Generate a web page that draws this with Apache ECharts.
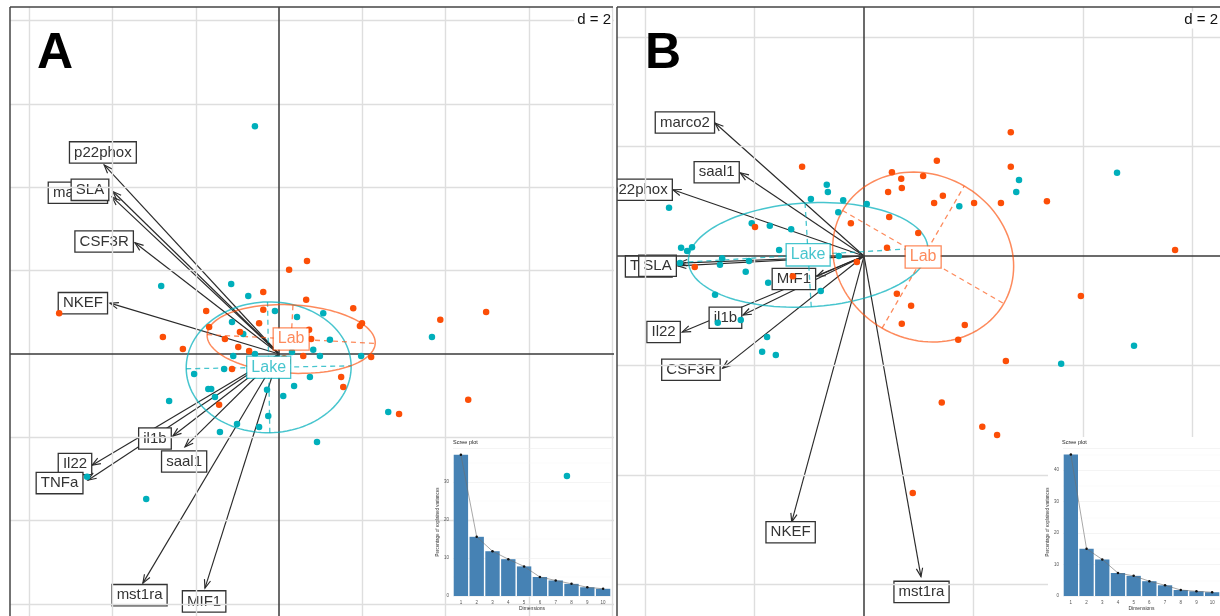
<!DOCTYPE html>
<html>
<head>
<meta charset="utf-8">
<script src="https://cdn.jsdelivr.net/npm/echarts@6/dist/echarts.min.js"></script>
<style>
  html, body { margin: 0; padding: 0; background: #fff; }
  #chart { width: 1220px; height: 616px; }
</style>
</head>
<body>
<div id="chart"></div>
<script>
// ---- panel A : variables (arrows) ----
const varsA = ['p22phox', 'marco2', 'SLA', 'CSF3R', 'NKEF', 'il1b', 'Il22', 'TNFa', 'saal1', 'mst1ra', 'MIF1'];
const tipsA = [[-4.20, 4.54], [-4.01, 3.77], [-3.99, 3.90], [-3.46, 2.67], [-4.06, 1.22], [-2.55, -1.97],
  [-4.49, -2.67], [-4.59, -3.03], [-2.26, -2.23], [-3.27, -5.50], [-1.78, -5.62]];
const labelPosA = [[-4.23, 4.84], [-4.83, 3.87], [-4.54, 3.94], [-4.20, 2.70], [-4.71, 1.22], [-2.98, -2.03],
  [-4.90, -2.64], [-5.27, -3.10], [-2.28, -2.58], [-3.35, -5.79], [-1.80, -5.94]];

// ---- panel A : individuals ----
const lakeA = [[-0.58, 5.47], [-2.83, 1.63], [-1.15, 1.68], [-0.74, 1.39], [-0.10, 1.03], [0.43, 0.89], [1.06, 0.98],
  [-1.13, 0.77], [-0.86, 0.48], [-1.10, -0.05], [-0.58, 0.00], [1.22, 0.34], [0.82, 0.10], [0.31, 0.05],
  [0.98, -0.05], [1.97, -0.05], [-1.32, -0.36], [-2.04, -0.48], [0.74, -0.55], [0.36, -0.77], [-1.70, -0.84],
  [-1.63, -0.84], [-0.29, -0.86], [-1.54, -1.03], [0.10, -1.01], [-2.64, -1.13], [-0.26, -1.49], [-1.01, -1.68],
  [-0.48, -1.75], [-1.42, -1.87], [2.62, -1.39], [3.67, 0.41], [0.91, -2.11], [-3.19, -3.48], [-4.61, -2.95],
  [6.91, -2.93]];
const labA = [[-0.38, 1.49], [0.24, 2.02], [0.67, 2.23], [0.65, 1.30], [-1.75, 1.03], [-0.38, 1.06], [1.78, 1.10],
  [1.99, 0.74], [1.94, 0.67], [-2.79, 0.41], [-1.68, 0.65], [-0.48, 0.74], [-0.94, 0.53], [-1.30, 0.36],
  [-2.31, 0.12], [-0.98, 0.17], [-0.72, 0.07], [0.72, 0.58], [0.77, 0.36], [0.58, -0.05], [2.21, -0.07],
  [0.12, -0.10], [-1.13, -0.36], [1.49, -0.55], [1.54, -0.79], [-1.44, -1.22], [2.88, -1.44], [-5.28, 0.98],
  [3.87, 0.82], [4.97, 1.01], [4.54, -1.10]];

// ---- panel B : variables (arrows) ----
const varsB = ['marco2', 'saal1', 'p22phox', 'TNFa', 'SLA', 'MIF1', 'il1b', 'Il22', 'CSF3R', 'NKEF', 'mst1ra'];
const tipsB = [[-2.72, 2.43], [-2.26, 1.52], [-3.49, 1.21], [-3.38, -0.13], [-3.40, -0.18], [-0.86, -0.37],
  [-2.21, -1.08], [-3.32, -1.39], [-2.58, -2.05], [-1.32, -4.86], [1.04, -5.86]];
const labelPosB = [[-3.27, 2.44], [-2.69, 1.53], [-4.11, 1.21], [-3.93, -0.19], [-3.77, -0.18], [-1.28, -0.42],
  [-2.53, -1.13], [-3.66, -1.39], [-3.16, -2.08], [-1.34, -5.05], [1.05, -6.14]];

// ---- panel B : individuals ----
const lakeB = [[-0.68, 1.30], [-0.66, 1.17], [-0.97, 1.04], [-0.38, 1.02], [0.05, 0.95], [-3.56, 0.88], [-0.47, 0.80],
  [-2.05, 0.60], [-1.72, 0.55], [-1.33, 0.49], [-3.34, 0.15], [-3.23, 0.09], [-3.14, 0.16], [-1.55, 0.11],
  [-2.59, -0.04], [-2.63, -0.16], [-2.10, -0.09], [-3.36, -0.13], [-2.16, -0.29], [-1.75, -0.49], [-0.79, -0.64],
  [-2.72, -0.71], [-0.46, 0.00], [-2.67, -1.22], [-2.25, -1.17], [-1.77, -1.48], [-1.86, -1.75], [-1.61, -1.81],
  [2.83, 1.39], [2.78, 1.17], [1.74, 0.91], [4.62, 1.52], [3.60, -1.97], [4.93, -1.64]];
const labB = [[-1.13, 1.63], [-0.24, 0.60], [-1.99, 0.53], [-3.09, -0.20], [-1.30, -0.37], [-0.13, -0.11],
  [0.42, 0.15], [0.99, 0.42], [0.51, 1.53], [0.68, 1.41], [0.44, 1.17], [0.69, 1.24], [0.46, 0.71], [1.08, 1.46],
  [1.33, 1.74], [1.28, 0.97], [0.60, -0.69], [0.86, -0.91], [0.69, -1.24], [0.89, -4.33], [2.68, 2.26],
  [2.68, 1.63], [1.44, 1.10], [2.01, 0.97], [2.50, 0.97], [3.34, 1.00], [5.68, 0.11], [3.96, -0.73],
  [1.84, -1.26], [1.72, -1.53], [2.59, -1.92], [1.42, -2.68], [2.16, -3.12], [2.43, -3.27]];

// ---- class ellipses: [cx, cy, semi-axis 1, semi-axis 2, angle deg] ----
const classes = ['Lake', 'Lab'];
const ellA = [[-0.25, -0.32, 1.98, 1.57, 1], [0.29, 0.36, 2.02, 0.82, -3]];
const ellB = [[-1.02, 0.02, 2.19, 0.95, 3.4], [1.08, -0.02, 1.70, 1.50, -30]];

// ---- grid ticks (d = 2) ----
const ticksAX = [-6, -4, -2, 2, 4, 6, 8];
const ticksAY = [-6, -4, -2, 2, 4, 6, 8];
const ticksBX = [-4, -2, 2, 4, 6];
const ticksBY = [-6, -4, -2, 2, 4];

// ---- scree plots ----
const dims = ['1', '2', '3', '4', '5', '6', '7', '8', '9', '10'];
const screeA = [37.2, 15.6, 11.8, 9.7, 7.8, 5.0, 4.1, 3.2, 2.3, 1.9];
const screeB = [44.9, 15.0, 11.6, 7.3, 6.4, 4.7, 3.4, 1.9, 1.5, 1.2];

const FONT = '"Liberation Sans", Arial, sans-serif';
const teal = '#00AFBB';
const orange = '#FC4E07';
const tealSoft = 'rgba(0,175,187,0.72)';
const orangeSoft = 'rgba(252,78,7,0.66)';
const classColors = [tealSoft, orangeSoft];

const chart = echarts.init(document.getElementById('chart'), null, { renderer: 'canvas' });

const refLines = (idx, xs, ys, color, width, z) => ({
  type: 'line', xAxisIndex: idx, yAxisIndex: idx, data: [], silent: true, z,
  markLine: {
    silent: true, symbol: ['none', 'none'], animation: false,
    label: { show: false }, emphasis: { disabled: true },
    lineStyle: { color, width, type: 'solid' },
    data: xs.map(v => ({ xAxis: v })).concat(ys.map(v => ({ yAxis: v })))
  }
});

const arrows = (idx, tips) => ({
  type: 'custom', xAxisIndex: idx, yAxisIndex: idx, z: 3, silent: true, clip: true,
  data: tips,
  renderItem: (params, api) => {
    const p0 = api.coord([0, 0]);
    const p1 = api.coord([api.value(0), api.value(1)]);
    const ang = Math.atan2(p1[1] - p0[1], p1[0] - p0[0]);
    const L = 9, h = 0.36;
    const a1 = [p1[0] - L * Math.cos(ang - h), p1[1] - L * Math.sin(ang - h)];
    const a2 = [p1[0] - L * Math.cos(ang + h), p1[1] - L * Math.sin(ang + h)];
    const st = { stroke: '#2a2a2a', lineWidth: 1.15, fill: null };
    return {
      type: 'group', children: [
        { type: 'line', shape: { x1: p0[0], y1: p0[1], x2: p1[0], y2: p1[1] }, style: st },
        { type: 'polyline', shape: { points: [a1, p1, a2] }, style: st }
      ]
    };
  }
});

const boxLabels = (idx, names, pos, colors, size, z) => ({
  type: 'custom', xAxisIndex: idx, yAxisIndex: idx, z, silent: true, clip: true,
  data: pos,
  renderItem: (params, api) => {
    const p = api.coord([api.value(0), api.value(1)]);
    const c = Array.isArray(colors) ? colors[params.dataIndex] : colors;
    return {
      type: 'text', x: p[0], y: p[1],
      style: {
        text: names[params.dataIndex], font: size + 'px ' + FONT, fill: c,
        align: 'center', verticalAlign: 'middle',
        backgroundColor: '#fff', borderColor: c, borderWidth: 1.3, padding: [3, 4, 2, 4]
      }
    };
  }
});

const ellipses = (idx, ells) => ({
  type: 'custom', xAxisIndex: idx, yAxisIndex: idx, z: 5, silent: true, clip: true,
  data: ells,
  renderItem: (params, api) => {
    const cx = api.value(0), cy = api.value(1), a = api.value(2), b = api.value(3);
    const th = api.value(4) * Math.PI / 180;
    const c = classColors[params.dataIndex];
    const pt = (u, v) => api.coord([cx + u * Math.cos(th) - v * Math.sin(th), cy + u * Math.sin(th) + v * Math.cos(th)]);
    const pts = [];
    for (let i = 0; i <= 120; i++) {
      const t = i / 120 * 2 * Math.PI;
      pts.push(pt(a * Math.cos(t), b * Math.sin(t)));
    }
    const ax1 = [pt(-a, 0), pt(a, 0)];
    const ax2 = [pt(0, -b), pt(0, b)];
    const dash = { stroke: c, lineWidth: 1.3, lineDash: [5, 4], fill: null };
    return {
      type: 'group', children: [
        { type: 'polyline', shape: { points: pts }, style: { stroke: c, lineWidth: 1.5, fill: null } },
        { type: 'polyline', shape: { points: ax1 }, style: dash },
        { type: 'polyline', shape: { points: ax2 }, style: dash }
      ]
    };
  }
});

const points = (idx, data, color) => ({
  type: 'scatter', xAxisIndex: idx, yAxisIndex: idx, z: 6, silent: true,
  symbolSize: 6.5, itemStyle: { color, opacity: 1 }, data
});

const screeAxisX = (grid) => ({
  gridIndex: grid, type: 'category', data: dims, z: 20,
  axisLine: { show: false }, axisTick: { show: false },
  axisLabel: { fontSize: 4.5, color: '#555', margin: 4, fontFamily: FONT },
  splitLine: { show: false },
  name: 'Dimensions', nameLocation: 'middle', nameGap: 10,
  nameTextStyle: { fontSize: 5, color: '#333', fontFamily: FONT }
});
const screeAxisY = (grid, max) => ({
  gridIndex: grid, type: 'value', min: 0, max, interval: 10, z: 20,
  axisLine: { show: false }, axisTick: { show: false },
  axisLabel: { fontSize: 4.5, color: '#555', margin: 4, fontFamily: FONT, formatter: v => (v % 10 === 0 ? v : '') },
  splitLine: { lineStyle: { color: '#ececec', width: 0.6 } },
  minorTick: { show: false, splitNumber: 2 },
  minorSplitLine: { show: true, lineStyle: { color: '#f4f4f4', width: 0.4 } },
  name: 'Percentage of explained variances', nameLocation: 'middle', nameGap: 12, nameRotate: 90,
  nameTextStyle: { fontSize: 4.5, color: '#333', fontFamily: FONT }
});
const screeSeries = (idx, vals) => ([
  { type: 'bar', xAxisIndex: idx, yAxisIndex: idx, data: vals, z: 21, silent: true,
    barCategoryGap: '9%', itemStyle: { color: '#4682B4' } },
  { type: 'line', xAxisIndex: idx, yAxisIndex: idx, data: vals, z: 22, silent: true,
    symbol: 'circle', symbolSize: 2.5, itemStyle: { color: '#111' },
    lineStyle: { color: 'rgba(110,110,110,0.6)', width: 1 } }
]);

const dLabel = (right) => ({
  type: 'text', z: 30, x: right, y: 20,
  style: { text: 'd = 2', font: '15px ' + FONT, fill: '#111', align: 'right', verticalAlign: 'middle',
    backgroundColor: '#fff', padding: [1, 1, 1, 3] }
});

chart.setOption({
  animation: false,
  backgroundColor: '#fff',
  grid: [
    { left: 10, top: 7, width: 604, height: 609 },
    { left: 617, top: 7, width: 603, height: 609 },
    { left: 453, top: 448, width: 158, height: 148 },
    { left: 1063, top: 448, width: 158, height: 148 }
  ],
  xAxis: [
    { gridIndex: 0, type: 'value', min: -6.46, max: 8.04, show: false },
    { gridIndex: 1, type: 'value', min: -4.51, max: 6.50, show: false },
    screeAxisX(2),
    screeAxisX(3)
  ],
  yAxis: [
    { gridIndex: 0, type: 'value', min: -6.29, max: 8.33, show: false },
    { gridIndex: 1, type: 'value', min: -6.58, max: 4.55, show: false },
    screeAxisY(2, 39),
    screeAxisY(3, 47)
  ],
  graphic: [
    { type: 'line', z: 8, shape: { x1: 10, y1: 7, x2: 10, y2: 616 }, style: { stroke: '#444', lineWidth: 1.5 } },
    { type: 'line', z: 8, shape: { x1: 10, y1: 7, x2: 613, y2: 7 }, style: { stroke: '#444', lineWidth: 1.5 } },
    { type: 'line', z: 8, shape: { x1: 617, y1: 7, x2: 617, y2: 616 }, style: { stroke: '#444', lineWidth: 1.5 } },
    { type: 'line', z: 8, shape: { x1: 617, y1: 7, x2: 1220, y2: 7 }, style: { stroke: '#444', lineWidth: 1.5 } },
    { type: 'rect', z: 15, shape: { x: 1048, y: 437, width: 172, height: 179 }, style: { fill: '#fff' } },
    dLabel(612),
    dLabel(1219),
    { type: 'text', z: 30, x: 37, y: 54, style: { text: 'A', font: 'bold 50px ' + FONT, fill: '#000', verticalAlign: 'middle' } },
    { type: 'text', z: 30, x: 645, y: 54, style: { text: 'B', font: 'bold 50px ' + FONT, fill: '#000', verticalAlign: 'middle' } },
    { type: 'text', z: 30, x: 453, y: 442, style: { text: 'Scree plot', font: '5.5px ' + FONT, fill: '#222', verticalAlign: 'middle' } },
    { type: 'text', z: 30, x: 1062, y: 442, style: { text: 'Scree plot', font: '5.5px ' + FONT, fill: '#222', verticalAlign: 'middle' } }
  ],
  series: [
    refLines(0, ticksAX, ticksAY, '#dedede', 1.4, 1),
    refLines(0, [0], [0], '#3a3a3a', 1.5, 2),
    arrows(0, tipsA),
    boxLabels(0, varsA, labelPosA, '#333', 15, 4),
    ellipses(0, ellA),
    points(0, lakeA, teal),
    points(0, labA, orange),
    boxLabels(0, classes, ellA.map(e => [e[0], e[1]]), classColors, 16, 7),

    refLines(1, ticksBX, ticksBY, '#dedede', 1.4, 1),
    refLines(1, [0], [0], '#3a3a3a', 1.5, 2),
    arrows(1, tipsB),
    boxLabels(1, varsB, labelPosB, '#333', 15, 4),
    ellipses(1, ellB),
    points(1, lakeB, teal),
    points(1, labB, orange),
    boxLabels(1, classes, ellB.map(e => [e[0], e[1]]), classColors, 16, 7),

    ...screeSeries(2, screeA),
    ...screeSeries(3, screeB)
  ]
});
</script>
</body>
</html>
